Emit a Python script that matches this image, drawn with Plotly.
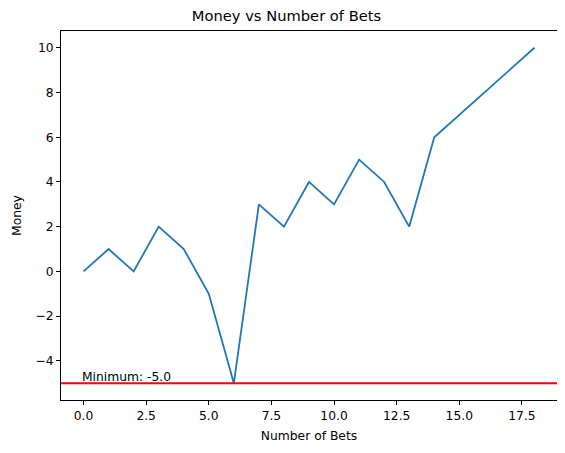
import plotly.graph_objects as go

bets = list(range(19))
money = [0, 1, 0, 2, 1, -1, -5, 3, 2, 4, 3, 5, 4, 2, 6, 7, 8, 9, 10]
minimum = min(money)

x_ticks = [0, 2.5, 5, 7.5, 10, 12.5, 15, 17.5]
y_ticks = [-4, -2, 0, 2, 4, 6, 8, 10]

fig = go.Figure()
fig.add_trace(go.Scatter(
    x=bets,
    y=money,
    mode="lines",
    line=dict(color="#1f77b4", width=1.8),
    showlegend=False,
))
fig.add_hline(y=minimum, line_color="red", line_width=1.8)
fig.add_annotation(
    x=0, y=minimum, text=f"Minimum: {float(minimum)}",
    showarrow=False, xanchor="left", yanchor="bottom",
    xshift=-4, yshift=-3,
    font=dict(size=12.3, color="black"),
)

axis_common = dict(
    showgrid=False, zeroline=False, showline=True, mirror=True,
    linecolor="black", linewidth=1, ticks="outside", ticklen=4,
    tickcolor="black", tickfont=dict(size=12.3, color="black"),
    automargin=False,
)
fig.update_xaxes(
    range=[-0.9, 18.9], tickvals=x_ticks,
    ticktext=[f"{t:.1f}" for t in x_ticks],
    title=dict(text="Number of Bets", font=dict(size=12.3, color="black"), standoff=9),
    **axis_common,
)
fig.update_yaxes(
    range=[-5.75, 10.75], tickvals=y_ticks,
    ticktext=[str(t).replace("-", "\u2212") for t in y_ticks],
    title=dict(text="Money", font=dict(size=12.3, color="black"), standoff=11),
    **axis_common,
)
# page body has an 8px margin, so the figure is sized to fit the window
fig.update_layout(
    title=dict(text="Money vs Number of Bets", x=0.5, xanchor="center",
               y=0.995, yanchor="top", font=dict(size=14.7, color="black")),
    font=dict(family="DejaVu Sans"),
    width=557, height=445,
    margin=dict(l=53, r=8, t=23, b=53),
    plot_bgcolor="white", paper_bgcolor="white",
)
fig.write_html("out.html")
